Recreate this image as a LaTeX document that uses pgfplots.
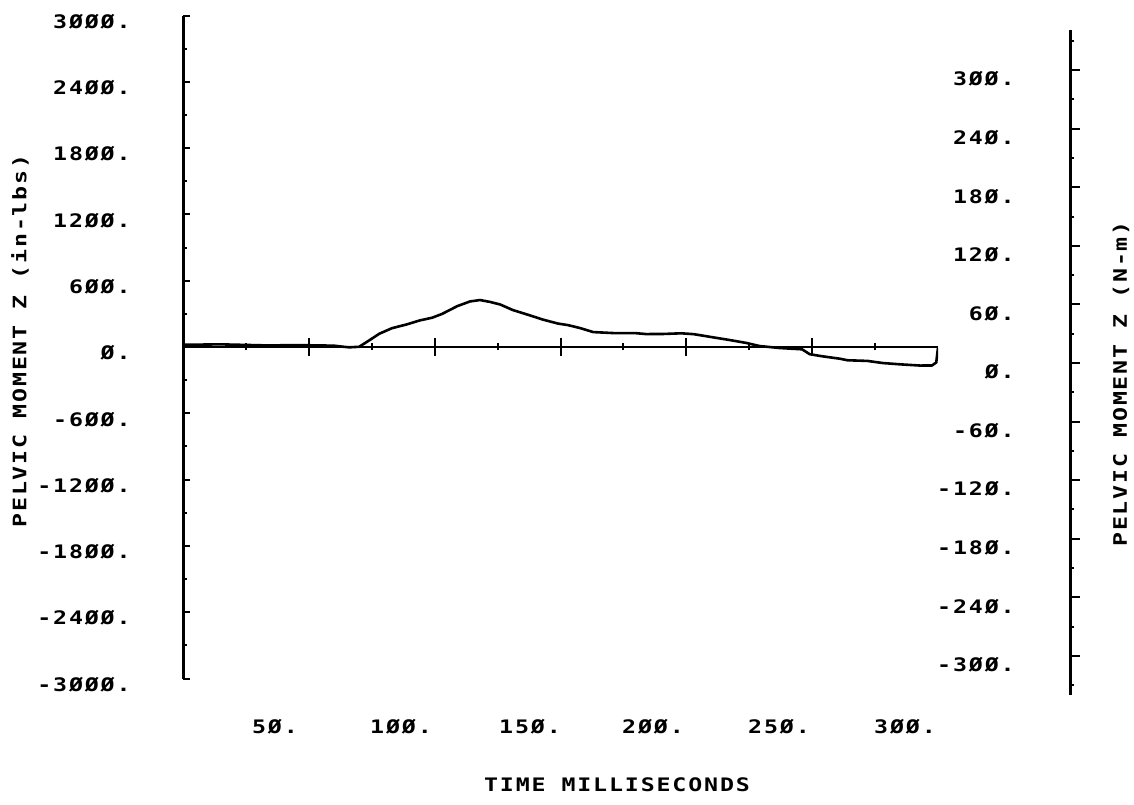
\documentclass[border=0pt]{standalone}
\usepackage{fontspec}
\usepackage{pgfplots}
\pgfplotsset{compat=1.18}
\newfontfamily\plotfont[FakeStretch=1.25,LetterSpace=10]{DejaVu Sans Mono}
\newcommand\pf{\plotfont\bfseries\fontsize{9.3pt}{11pt}\selectfont}

% pelvic moment Z, in-lb, vs time in ms
\pgfplotstableread{
t v
0 20
15 24
32 15
49 16
60 12
63 4
66 -3
70 2
74 60
78 120
83 170
89 205
94 240
99 265
103 300
109 370
114 412
118 425
122 408
126 385
131 335
138 285
143 248
149 212
153 198
158 170
163 135
172 125
180 125
184 117
191 118
198 124
203 116
211 86
217 64
224 36
229 9
237 -9
246 -21
249 -65
254 -84
261 -106
264 -120
272 -126
278 -145
285 -157
293 -168
297.6 -167
299.3 -140
300 -5
}\pelvic

\begin{document}
\begin{tikzpicture}
\path[use as bounding box] (0,0) rectangle (567pt,402pt);

% left axis (in-lb)
\begin{axis}[at={(91.5pt,62.75pt)}, anchor=south west, scale only axis,
  width=377.5pt, height=331.5pt,
  xmin=0, xmax=300, ymin=-3000, ymax=3000,
  hide x axis, axis y line=left,
  y axis line style={-, line width=1.5pt},
  ytick={-3000,-2400,...,3000},
  minor ytick={-2700,-2100,...,2700},
  yticklabels={-3ØØØ.,-24ØØ.,-18ØØ.,-12ØØ.,-6ØØ.,Ø.,6ØØ.,12ØØ.,18ØØ.,24ØØ.,3ØØØ.},
  tick align=inside, major tick length=3.5pt, minor tick length=2pt,
  tick style={black, line width=1pt},
  yticklabel style={anchor=east, inner sep=0pt, xshift=-26pt, yshift=-3pt, font=\pf}]
\end{axis}

% zero line with time ticks, and the curve
\begin{axis}[at={(91.5pt,62.75pt)}, anchor=south west, scale only axis,
  width=377.5pt, height=331.5pt,
  xmin=0, xmax=300, ymin=-3000, ymax=3000,
  hide y axis, axis x line=middle,
  x axis line style={-, line width=1pt},
  xtick={50,100,...,300}, minor xtick={25,75,...,275},
  xticklabels={,,,,,},
  tick align=center, major tick length=8.5pt, minor tick length=3.5pt,
  tick style={black, line width=1pt}]
\addplot[black, line width=1.3pt] table[x=t, y=v] {\pelvic};
\end{axis}

% right axis (N-m)
\begin{axis}[at={(535pt,54.5pt)}, anchor=south east, scale only axis,
  width=20pt, height=332.5pt,
  xmin=0, xmax=1, ymin=-340, ymax=341,
  hide x axis, axis y line=right,
  y axis line style={-, line width=1.5pt},
  ytick={-300,-240,...,300},
  minor ytick={-330,-270,...,330},
  yticklabels={-3ØØ.,-24Ø.,-18Ø.,-12Ø.,-6Ø.,Ø.,6Ø.,12Ø.,18Ø.,24Ø.,3ØØ.},
  tick align=outside, major tick length=5pt, minor tick length=2pt,
  tick style={black, line width=1pt},
  yticklabel style={anchor=east, inner sep=0pt, xshift=-32.5pt, yshift=-4.5pt, font=\pf}]
\end{axis}

% time labels as the plotter placed them
\foreach \x/\l in {137.5/5Ø., 200.5/1ØØ., 265/15Ø., 326.5/2ØØ., 389.5/25Ø., 452.5/3ØØ.}
  \node[font=\pf, inner sep=0pt] at (\x pt,38.5pt) {\l};

\node[font=\pf, inner sep=0pt] at (308.5pt,9.5pt) {TIME MILLISECONDS};
\node[font=\pf, inner sep=0pt, rotate=90] at (10pt,231.5pt) {PELVIC MOMENT Z (in-lbs)};
\node[font=\pf, inner sep=0pt, rotate=90] at (560.5pt,210pt) {PELVIC MOMENT Z (N-m)};
\end{tikzpicture}
\end{document}
